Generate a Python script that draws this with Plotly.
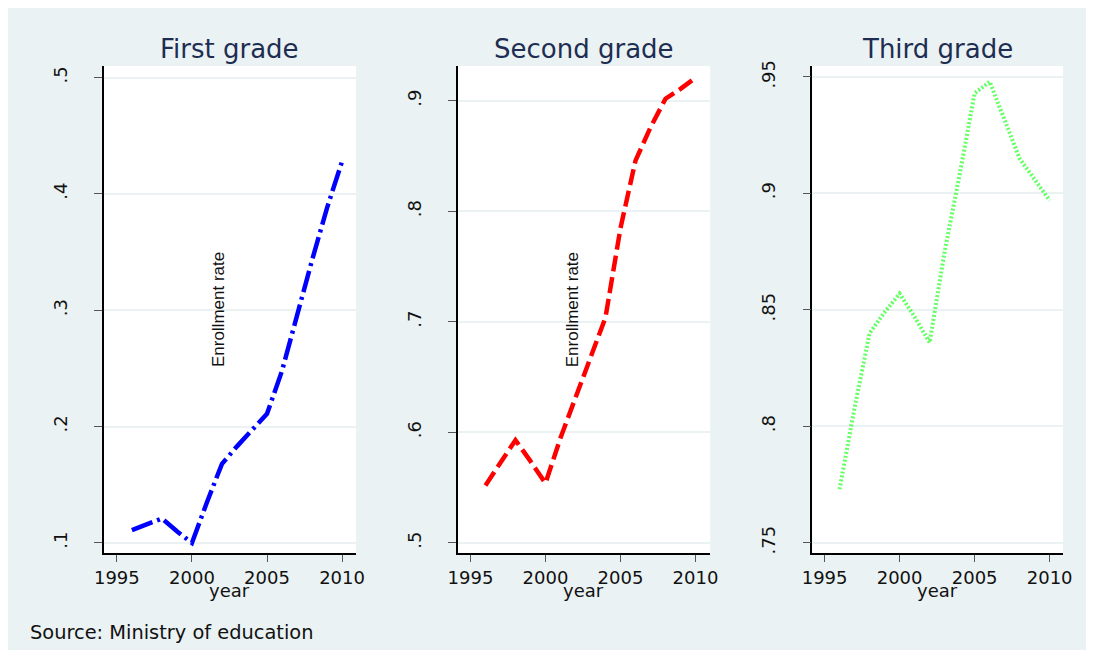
import plotly.graph_objects as go

# ---------------- data ----------------
years = [1996, 1997, 1998, 1999, 2000, 2001, 2002, 2003, 2004, 2005, 2006, 2007, 2008, 2009, 2010]
first_grade = [0.111, 0.116, 0.121, 0.110, 0.100, 0.135, 0.168, 0.183, 0.197, 0.211, 0.248, 0.296, 0.343, 0.388, 0.428]
second_grade = [0.552, 0.572, 0.593, 0.574, 0.554, 0.595, 0.632, 0.667, 0.704, 0.785, 0.846, 0.876, 0.902, 0.911, 0.921]
third_grade = [0.773, 0.808, 0.840, 0.849, 0.857, 0.847, 0.836, 0.875, 0.908, 0.943, 0.948, 0.931, 0.915, 0.906, 0.897]

titles = ["First grade", "Second grade", "Third grade"]
x_ticks = [1995, 2000, 2005, 2010]
x_labels = ["1995", "2000", "2005", "2010"]
y1_ticks = [0.1, 0.2, 0.3, 0.4, 0.5]
y1_labels = [".1", ".2", ".3", ".4", ".5"]
y2_ticks = [0.5, 0.6, 0.7, 0.8, 0.9]
y2_labels = [".5", ".6", ".7", ".8", ".9"]
y3_ticks = [0.75, 0.8, 0.85, 0.9, 0.95]
y3_labels = [".75", ".8", ".85", ".9", ".95"]
x_title = "year"
y_title = "Enrollment rate"
note = "Source: Ministry of education"

# ---------------- layout geometry ----------------
OFF = 8                      # page body margin
W, H = 1094 - 2 * OFF, 658 - 2 * OFF
BG = "#EAF2F3"
FONT = "DejaVu Sans, Liberation Sans, Arial, sans-serif"
TITLE_COLOR = "#1E2D52"


def px(v):
    # screen x of the reference -> paper fraction (with measured render correction)
    return ((v - 12) / 0.98 - OFF) / W


def py(v):
    return 1 - ((v - 5) / 0.99 - OFF) / H


top_px, bottom_px = 65.0, 552.7
panels = [
    dict(x0=104.3, x1=356.7, xr=[1994.11, 2010.93], yr=[0.0911, 0.5099],
         series=first_grade, ticks=y1_ticks, labels=y1_labels,
         color="#0000FF", dash="22px,5px,3px,5px", width=4.5, opacity=1.0, ytitle=True, ytx=220),
    dict(x0=458.3, x1=710.7, xr=[1994.15, 2010.98], yr=[0.4906, 0.9316],
         series=second_grade, ticks=y2_ticks, labels=y2_labels,
         color="#FF0000", dash="16px,6px", width=4.5, opacity=1.0, ytitle=True, ytx=573),
    dict(x0=812.7, x1=1063.3, xr=[1994.18, 2010.89], yr=[0.7455, 0.9547],
         series=third_grade, ticks=y3_ticks, labels=y3_labels,
         color="#22FF22", dash="2px,2px", width=4, opacity=0.7, ytitle=False, ytx=None),
]

fig = go.Figure()
annotations = []
for i, p in enumerate(panels):
    n = "" if i == 0 else str(i + 1)
    xa, ya = "x" + n, "y" + n
    fig.add_trace(go.Scatter(
        x=years, y=p["series"], mode="lines", xaxis=xa, yaxis=ya,
        line=dict(color=p["color"], width=p["width"], dash=p["dash"]),
        opacity=p["opacity"], showlegend=False, hoverinfo="skip"))
    fig.layout["xaxis" + n] = dict(
        domain=[px(p["x0"]), px(p["x1"])], range=p["xr"], anchor=ya, tickvals=x_ticks, ticktext=x_labels,
        showgrid=False, zeroline=False, showline=True, linecolor="#000000", linewidth=1.5,
        ticks="outside", ticklen=7, tickwidth=1.3, tickcolor="#555555",
        tickfont=dict(family=FONT, size=18, color="#111111"), fixedrange=True)
    fig.layout["yaxis" + n] = dict(
        domain=[py(bottom_px), py(top_px)], range=p["yr"], anchor=xa, tickvals=p["ticks"], ticktext=p["labels"],
        tickangle=-90, showgrid=True, gridcolor=BG, gridwidth=1.6, zeroline=False,
        showline=True, linecolor="#000000", linewidth=1.5,
        ticks="outside", ticklen=8, tickwidth=1.3, tickcolor="#555555",
        ticklabelstandoff=20,
        tickfont=dict(family=FONT, size=18, color="#111111"), fixedrange=True)
    cx = px((p["x0"] + p["x1"]) / 2)
    annotations.append(dict(text=titles[i], x=cx, y=py(48), xref="paper", yref="paper",
                            xanchor="center", yanchor="middle", showarrow=False,
                            font=dict(family=FONT, size=26, color=TITLE_COLOR)))
    annotations.append(dict(text=x_title, x=cx, y=py(590), xref="paper", yref="paper",
                            xanchor="center", yanchor="middle", showarrow=False,
                            font=dict(family=FONT, size=18, color="#111111")))
    if p["ytitle"]:
        annotations.append(dict(text=y_title, x=px(p["ytx"]), y=py(309), xref="paper", yref="paper",
                                xanchor="center", yanchor="middle", showarrow=False, textangle=-90,
                                font=dict(family="Liberation Sans, Arial, sans-serif", size=17, color="#111111")))

annotations.append(dict(text=note, x=px(29), y=py(632), xref="paper", yref="paper",
                        xanchor="left", yanchor="middle", showarrow=False,
                        font=dict(family=FONT, size=19.4, color="#111111")))

fig.update_layout(
    width=W, height=H, margin=dict(l=0, r=0, t=0, b=0),
    paper_bgcolor=BG, plot_bgcolor="#FFFFFF",
    annotations=annotations, showlegend=False)

fig.write_html("out.html")
